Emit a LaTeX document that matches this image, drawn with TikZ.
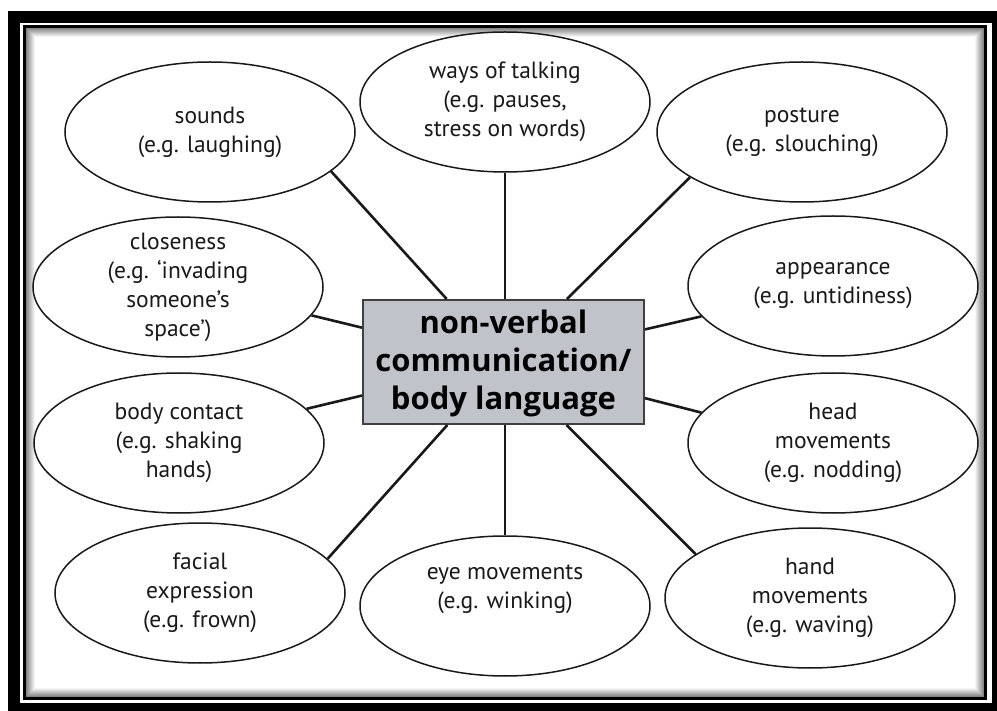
\documentclass[tikz,border=0pt]{standalone}
\usepackage{fontspec}
\setmainfont{PT Sans}
\newfontfamily\hubfont{Open Sans}
\usetikzlibrary{shapes.geometric}
\definecolor{hubgray}{RGB}{192,195,201}
\begin{document}
\begin{tikzpicture}[x=1pt,y=-1pt,
  bubble/.style={ellipse, draw=black!90, line width=1.5pt, fill=white,
    minimum width=290pt, minimum height=140pt, inner xsep=0pt, inner ysep=-6pt,
    align=center, font=\fontsize{23.5}{29}\selectfont, text=black!90},
  hub/.style={rectangle, draw=black!75, line width=2pt, fill=hubgray,
    minimum width=281pt, minimum height=124pt, inner sep=0pt, align=center,
    font=\hubfont\bfseries\fontsize{31}{38}\selectfont, text=black},
  link/.style={line width=2.6pt, draw=black!90}]
\useasboundingbox (0,0) rectangle (997,711);
% frame
\fill[black] (8,11) rectangle (997,711);
\fill[white] (20,23) rectangle (992,703);
\fill[black] (23,25) rectangle (987,700);
\foreach \i [evaluate=\i as \c using {48-5.5*\i}] in {0,...,8}
  \fill[black!\c] (26+\i,28+\i) rectangle (984-\i,697-\i);
\fill[white] (35,37) rectangle (975,688);
% nodes
\node[hub] (box) at (503.5,362) {\strut non-verbal\\communication/\\body language};
\node[bubble] (sounds) at (210,132) {sounds\\(e.g. laughing)};
\node[bubble] (ways) at (505,102) {ways of talking\\(e.g. pauses,\\stress on words)};
\node[bubble] (posture) at (802,132) {posture\\(e.g. slouching)};
\node[bubble] (close) at (178,287) {closeness\\(e.g. ‘invading\\someone’s\\space’)};
\node[bubble] (appear) at (833,286) {appearance\\(e.g. untidiness)};
\node[bubble] (contact) at (179,443) {body contact\\(e.g. shaking\\hands)};
\node[bubble] (head) at (833,443) {head\\movements\\(e.g. nodding)};
\node[bubble] (facial) at (200,593) {facial\\expression\\(e.g. frown)};
\node[bubble] (eye) at (505,606) {eye movements\\(e.g. winking)\\\strut};
\node[bubble] (hand) at (810,598) {hand\\movements\\(e.g. waving)};
% connectors
\draw[link] (box) -- (sounds.-18.4);
\draw[link] (ways.south) -- (ways.south |- box.north);
\draw[link] (box) -- (posture.-158);
\draw[link] (box) -- (close.-12.6);
\draw[link] (box) -- (appear.193.7);
\draw[link] (box) -- (contact.15.2);
\draw[link] (box) -- (head.167);
\draw[link] (box) -- (facial.15);
\draw[link] (eye.north) -- (eye.north |- box.south);
\draw[link] (box) -- (hand.159.5);
\end{tikzpicture}
\end{document}
